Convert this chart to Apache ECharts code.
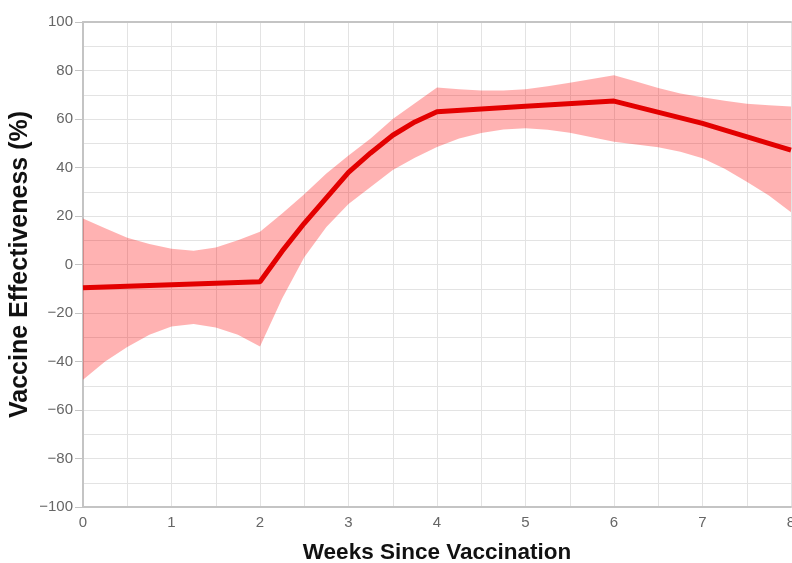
<!DOCTYPE html>
<html>
<head>
<meta charset="utf-8">
<script src="https://cdn.jsdelivr.net/npm/echarts@6/dist/echarts.min.js"></script>
<style>html,body{margin:0;padding:0;background:#fff;}#chart{width:792px;height:563px;}</style>
</head>
<body>
<div id="chart"></div>
<script>
// ---- data ----
var lineWeeks  = [0, 1, 2, 2.25, 2.5, 2.75, 3, 3.25, 3.5, 3.75, 4, 5, 6, 7, 8];
var lineValues = [-9.6, -8.3, -7.1, 5.5, 17, 27.5, 38, 46, 53.3, 58.8, 63, 65.3, 67.4, 58.2, 47.2];

var bandWeeks = [0, 0.25, 0.5, 0.75, 1, 1.25, 1.5, 1.75, 2, 2.25, 2.5, 2.75, 3, 3.25, 3.5, 3.75, 4,
                 4.25, 4.5, 4.75, 5, 5.25, 5.5, 5.75, 6, 6.25, 6.5, 6.75, 7, 7.25, 7.5, 7.75, 8];
var bandUpper = [19, 15, 11, 8.5, 6.5, 5.7, 7, 10, 13.5, 21, 29, 37.5, 45, 52, 60, 66.5, 73,
                 72.3, 71.8, 71.8, 72.3, 73.5, 75, 76.5, 78, 75.5, 72.8, 70.5, 69, 67.5, 66.3, 65.7, 65.2];
var bandLower = [-47.5, -40, -34, -29, -25.6, -24.5, -26, -29, -33.8, -14, 3, 15.5, 25, 32, 39, 44, 48.5,
                 52, 54.2, 55.7, 56.2, 55.6, 54.3, 52.5, 50.6, 49.5, 48.4, 46.5, 43.8, 39.5, 34.1, 28.5, 21.5];

var xTitle = 'Weeks Since Vaccination';
var yTitle = 'Vaccine Effectiveness (%)';

// ---- chart ----
var chart = echarts.init(document.getElementById('chart'), null, {renderer: 'canvas'});
var gridColor = '#e3e3e3';
var axisColor = '#c4c4c4';
var labelColor = '#666';
var fontFamily = '"Liberation Sans", Arial, sans-serif';

var option = {
  animation: false,
  backgroundColor: '#fff',
  grid: {left: 83, right: 1, top: 22, bottom: 56, containLabel: false, outerBoundsMode: 'none'},
  xAxis: [{
    type: 'value', min: 0, max: 8, interval: 1,
    name: xTitle, nameLocation: 'middle', nameGap: 34,
    nameTextStyle: {fontFamily: fontFamily, fontSize: 22.5, fontWeight: 'bold', color: '#111'},
    axisLine: {show: true, onZero: false, lineStyle: {color: axisColor, width: 2}},
    axisTick: {show: false},
    axisLabel: {color: labelColor, fontSize: 15, fontFamily: fontFamily, margin: 8},
    splitLine: {show: true, lineStyle: {color: gridColor, width: 1}},
    minorTick: {show: false, splitNumber: 2},
    minorSplitLine: {show: true, lineStyle: {color: gridColor, width: 1}}
  }, {
    type: 'value', min: 0, max: 8, position: 'top',
    axisLine: {show: true, onZero: false, lineStyle: {color: axisColor, width: 2}},
    axisTick: {show: false}, axisLabel: {show: false}, splitLine: {show: false}
  }],
  yAxis: {
    type: 'value', min: -100, max: 100, interval: 20,
    name: yTitle, nameLocation: 'middle', nameGap: 50, nameRotate: 90, nameMoveOverlap: false,
    nameTextStyle: {fontFamily: fontFamily, fontSize: 25, fontWeight: 'bold', color: '#111'},
    axisLine: {show: true, onZero: false, lineStyle: {color: axisColor, width: 2}},
    axisTick: {show: true, length: 8, lineStyle: {color: axisColor, width: 1}},
    axisLabel: {
      color: labelColor, fontSize: 15, fontFamily: fontFamily, margin: 10,
      formatter: function (v) { return v < 0 ? '\u2212' + Math.abs(v) : String(v); }
    },
    splitLine: {show: true, lineStyle: {color: gridColor, width: 1}},
    minorTick: {show: false, splitNumber: 2},
    minorSplitLine: {show: true, lineStyle: {color: gridColor, width: 1}}
  },
  series: [{
    type: 'custom',
    name: 'CI',
    xAxisIndex: 0,
    data: bandWeeks.map(function (w, i) { return [w, bandLower[i], bandUpper[i]]; }),
    encode: {x: 0, y: [1, 2]},
    z: 2,
    silent: true,
    renderItem: function (params, api) {
      if (params.dataIndex !== 0) return null;
      var pts = [];
      for (var i = 0; i < bandWeeks.length; i++) pts.push(api.coord([bandWeeks[i], bandUpper[i]]));
      for (var j = bandWeeks.length - 1; j >= 0; j--) pts.push(api.coord([bandWeeks[j], bandLower[j]]));
      return {
        type: 'polygon',
        shape: {points: pts},
        style: {fill: 'rgba(255,0,0,0.3)', stroke: null}
      };
    }
  }, {
    type: 'line',
    name: 'VE',
    xAxisIndex: 0,
    data: lineWeeks.map(function (w, i) { return [w, lineValues[i]]; }),
    showSymbol: false,
    symbol: 'none',
    z: 3,
    lineStyle: {color: '#e30000', width: 5}
  }]
};
chart.setOption(option);
</script>
</body>
</html>
